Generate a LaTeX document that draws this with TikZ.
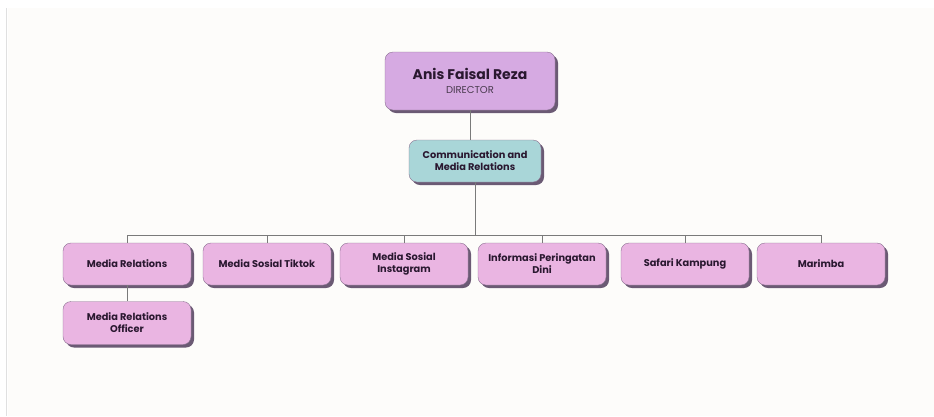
\documentclass[tikz,border=0pt]{standalone}
\usepackage{fontspec}
\setmainfont{Poppins}
\usetikzlibrary{shadows}
\definecolor{panel}{HTML}{FDFCFA}
\definecolor{topfill}{HTML}{D6AAE2}
\definecolor{pinkfill}{HTML}{EAB5E2}
\definecolor{tealfill}{HTML}{A9D6D8}
\definecolor{shadowcol}{HTML}{6B5A74}
\definecolor{edgecol}{HTML}{8A7090}
\definecolor{txt}{HTML}{2A1830}
\definecolor{linecol}{HTML}{7A7A7A}
\tikzset{
  box/.style={draw=edgecol, line width=0.4pt, rounded corners=8pt, align=center,
    text=txt, font=\bfseries\fontsize{9.8}{12}\selectfont, inner sep=0pt,
    drop shadow={shadow xshift=3pt, shadow yshift=-3pt, fill=shadowcol, opacity=1}},
  rowbox/.style={box, fill=pinkfill, minimum width=128pt, minimum height=42pt},
  conn/.style={draw=linecol, line width=0.8pt}
}
\begin{document}
\begin{tikzpicture}[x=1pt,y=-1pt]
\useasboundingbox (0,0) rectangle (934,416);
\fill[white] (0,0) rectangle (934,416);
\fill[panel] (8,8) rectangle (934,416);
\draw[black!12, line width=0.6pt] (6,8) -- (6,416);
\node[box, fill=topfill, minimum width=170pt, minimum height=58pt] (dir) at (470,81)
  {{\fontsize{14}{16}\selectfont Anis Faisal Reza}\\[2pt]{\mdseries\color{txt!85}\fontsize{10}{12}\selectfont DIRECTOR}};
\node[box, fill=tealfill, minimum width=132pt, minimum height=42pt] (cmr) at (475,161)
  {Communication and\\Media Relations};
\node[rowbox] (mr) at (127,264) {Media Relations};
\node[rowbox] (tt) at (267,264) {Media Sosial Tiktok};
\node[rowbox] (ig) at (404,264) {Media Sosial\\Instagram};
\node[rowbox] (ipd) at (542,264) {Informasi Peringatan\\Dini};
\node[rowbox] (sk) at (685,264) {Safari Kampung};
\node[rowbox] (mar) at (821,264) {Marimba};
\node[rowbox, minimum height=43pt] (mro) at (127,323) {Media Relations\\Officer};
\coordinate (bus) at (475,235);
\draw[conn] (dir.south) -- (dir.south |- cmr.north);
\draw[conn] (cmr.south) -- (bus);
\draw[conn] (mr.north |- bus) -- (mar.north |- bus);
\foreach \n in {mr,tt,ig,ipd,sk,mar}{
  \draw[conn] (\n.north |- bus) -- (\n.north);
}
\draw[conn] (mr.south) -- (mro.north);
\end{tikzpicture}
\end{document}
